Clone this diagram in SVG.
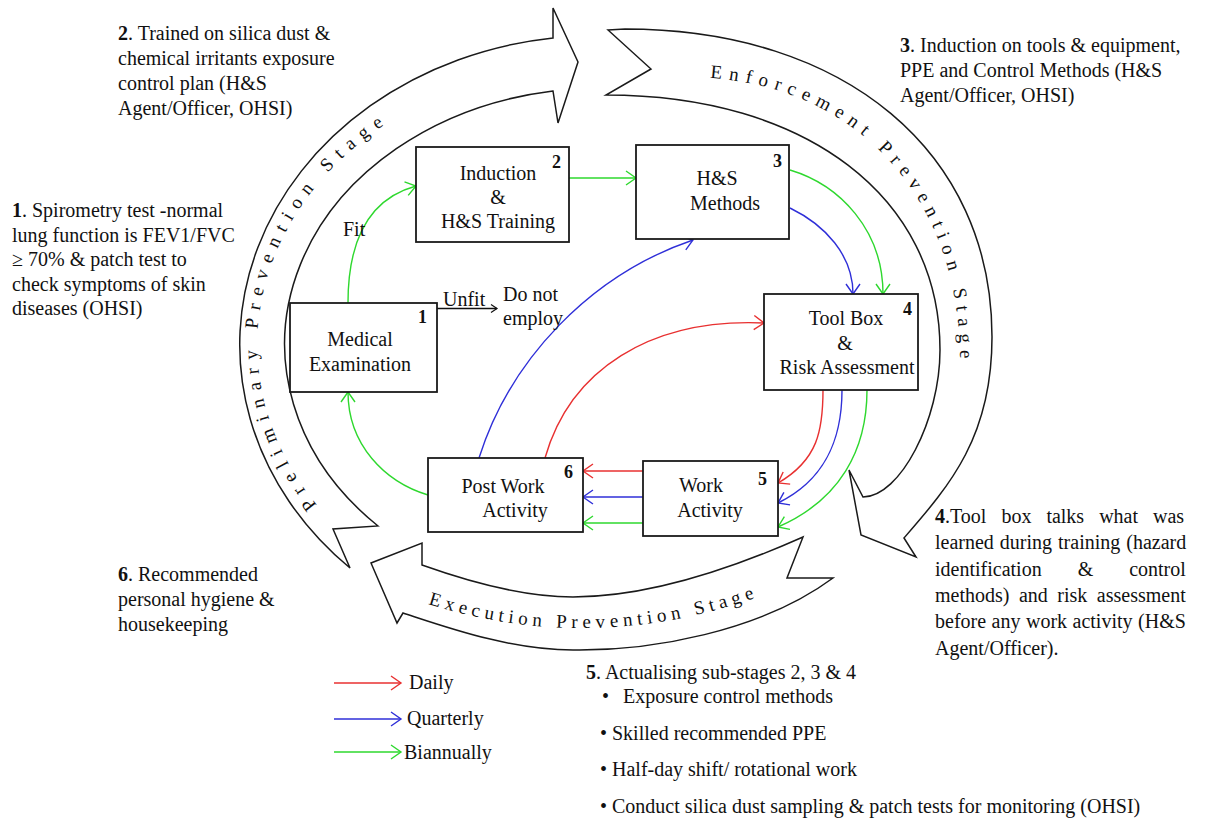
<svg xmlns="http://www.w3.org/2000/svg" width="1205" height="821" viewBox="0 0 1205 821">
<defs>
<style>
text{font-family:"Liberation Serif","Times New Roman",serif;fill:#111;font-size:20px}
.c{text-anchor:middle}
.n{font-size:18px;font-weight:bold}
.bd{font-weight:bold}
.box{fill:#fff;stroke:#1a1a1a;stroke-width:1.8}
.band{fill:#fff;stroke:#1a1a1a;stroke-width:1.5;stroke-linejoin:miter}
.bt{font-size:19px}
.r{fill:none;stroke:#e83030;stroke-width:1.4}
.b{fill:none;stroke:#2f2fd8;stroke-width:1.4}
.g{fill:none;stroke:#2ed82e;stroke-width:1.4}
.k{fill:none;stroke:#111;stroke-width:1.3}
</style>
<marker id="mr" markerUnits="userSpaceOnUse" markerWidth="14" markerHeight="18" refX="11" refY="8" orient="auto"><path d="M1,1 L11,8 L1,15" fill="none" stroke="#e83030" stroke-width="1.4"/></marker>
<marker id="mb" markerUnits="userSpaceOnUse" markerWidth="14" markerHeight="18" refX="11" refY="8" orient="auto"><path d="M1,1 L11,8 L1,15" fill="none" stroke="#2f2fd8" stroke-width="1.4"/></marker>
<marker id="mg" markerUnits="userSpaceOnUse" markerWidth="14" markerHeight="18" refX="11" refY="8" orient="auto"><path d="M1,1 L11,8 L1,15" fill="none" stroke="#2ed82e" stroke-width="1.4"/></marker>
<marker id="mk" markerUnits="userSpaceOnUse" markerWidth="10" markerHeight="10" refX="7" refY="5" orient="auto"><path d="M1,1 L7,5 L1,9" fill="none" stroke="#111" stroke-width="1.2"/></marker>
<path id="pp" d="M317,505 A333,280 0 0 1 397,117"/>
<path id="ep" d="M710,78 C860,88 960,200 960,360"/>
<path id="xp" d="M428,604 Q590,655 755,598"/>
</defs>
<rect width="1205" height="821" fill="#fff"/>

<g id="stage-preliminary">
<path class="band" d="M350,568 A357,309 0 0 1 553,38 L553,8 L578,62 L558,123 L553,91 A315,256 0 0 0 378,526 L333,529 Z"/>
<text class="bt" letter-spacing="7.95"><textPath href="#pp">Preliminary Prevention Stage</textPath></text>
</g>
<g id="stage-enforcement">
<path class="band" d="M608,30 L625,29 C845,29 992,152 992,337 C992,437 950,485 904,538 L916,557 L861,535 L849,470 L863,497 C900,497 940,420 940,350 C940,197 806,95 606,95 L651,69 Z"/>
<text class="bt" letter-spacing="6.85"><textPath href="#ep">Enforcement Prevention Stage</textPath></text>
</g>
<g id="stage-execution">
<path class="band" d="M803,537 C731,569 650,597 573,597 C520,597 464,580 422,565 L422,543 L371,563 L397,623 L403,613 C446,627 510,650 573,650 C650,651 760,632 833,578 L787,578 Z"/>
<text class="bt" letter-spacing="4.85"><textPath href="#xp">Execution Prevention Stage</textPath></text>
</g>

<g id="connectors">
<path class="g" d="M348,303 C348,235 372,198 416,186" marker-end="url(#mg)"/>
<path class="g" d="M569,178 L636,178" marker-end="url(#mg)"/>
<path class="g" d="M790,170 C840,185 883,230 883,294" marker-end="url(#mg)"/>
<path class="b" d="M790,208 C825,225 853,255 853,294" marker-end="url(#mb)"/>
<path class="r" d="M823,390 C823,430 818,460 778,483" marker-end="url(#mr)"/>
<path class="b" d="M842,390 C842,440 825,480 778,503" marker-end="url(#mb)"/>
<path class="g" d="M867,390 C867,450 840,500 778,527" marker-end="url(#mg)"/>
<path class="r" d="M643,471 L583,471" marker-end="url(#mr)"/>
<path class="b" d="M643,497 L583,497" marker-end="url(#mb)"/>
<path class="g" d="M643,523 L583,523" marker-end="url(#mg)"/>
<path class="g" d="M428,495 C385,482 348,445 348,392" marker-end="url(#mg)"/>
<path class="b" d="M479,458 C510,360 590,275 693,240" marker-end="url(#mb)"/>
<path class="r" d="M545,458 C570,370 650,318 764,323" marker-end="url(#mr)"/>
<path class="k" d="M437,308.5 L497,308.5" marker-end="url(#mk)"/>
<text x="343" y="236">Fit</text>
<text x="443" y="306">Unfit</text>
</g>

<g id="node-1">
<rect class="box" x="290" y="303" width="147" height="89"/>
<text class="n" x="418" y="323">1</text>
<text class="c" x="360" y="346">Medical</text>
<text class="c" x="360" y="371">Examination</text>
</g>
<g id="node-2">
<rect class="box" x="416" y="147" width="153" height="95"/>
<text class="n" x="552" y="168">2</text>
<text class="c" x="498" y="180">Induction</text>
<text class="c" x="498" y="204">&amp;</text>
<text class="c" x="498" y="228">H&amp;S Training</text>
</g>
<g id="node-3">
<rect class="box" x="636" y="145" width="153" height="94"/>
<text class="n" x="773" y="167">3</text>
<text class="c" x="717" y="185">H&amp;S</text>
<text class="c" x="725" y="210">Methods</text>
</g>
<g id="node-4">
<rect class="box" x="764" y="294" width="154" height="96"/>
<text class="n" x="903" y="315">4</text>
<text class="c" x="846" y="325">Tool Box</text>
<text class="c" x="845" y="350">&amp;</text>
<text class="c" x="847" y="374">Risk Assessment</text>
</g>
<g id="node-5">
<rect class="box" x="643" y="461" width="135" height="75"/>
<text class="n" x="758" y="485">5</text>
<text class="c" x="701" y="492">Work</text>
<text class="c" x="710" y="517">Activity</text>
</g>
<g id="node-6">
<rect class="box" x="428" y="458" width="155" height="74"/>
<text class="n" x="564" y="478">6</text>
<text class="c" x="503" y="493">Post Work</text>
<text class="c" x="515" y="517">Activity</text>
</g>
<g id="node-do-not-employ">
<text x="503" y="301">Do not</text>
<text x="503" y="325">employ</text>
</g>

<g id="notes">
<text x="118" y="40"><tspan class="bd">2</tspan>. Trained on silica dust &amp;</text>
<text x="118" y="65">chemical irritants exposure</text>
<text x="118" y="90">control plan (H&amp;S</text>
<text x="118" y="115">Agent/Officer, OHSI)</text>

<text x="900" y="52"><tspan class="bd">3</tspan>. Induction on tools &amp; equipment,</text>
<text x="900" y="77">PPE and Control Methods (H&amp;S</text>
<text x="900" y="102">Agent/Officer, OHSI)</text>

<text x="12" y="217"><tspan class="bd">1</tspan>. Spirometry test -normal</text>
<text x="12" y="242">lung function is FEV1/FVC</text>
<text x="12" y="266">≥ 70% &amp; patch test to</text>
<text x="12" y="291">check symptoms of skin</text>
<text x="12" y="315">diseases (OHSI)</text>

<text x="118" y="581"><tspan class="bd">6</tspan>. Recommended</text>
<text x="118" y="606">personal hygiene &amp;</text>
<text x="118" y="631">housekeeping</text>

<text x="935" y="523" word-spacing="10"><tspan class="bd">4</tspan>.Tool box talks what was</text>
<text x="935" y="549" word-spacing="1">learned during training (hazard</text>
<text x="935" y="576" word-spacing="31">identification &amp; control</text>
<text x="935" y="602" word-spacing="4.5">methods) and risk assessment</text>
<text x="935" y="628" word-spacing="0.5">before any work activity (H&amp;S</text>
<text x="935" y="655">Agent/Officer).</text>

<text x="586" y="679"><tspan class="bd">5</tspan>. Actualising sub-stages 2, 3 &amp; 4</text>
<text x="602" y="703" font-size="15">•</text>
<text x="623" y="703">Exposure control methods</text>
<text x="600" y="740" font-size="15">•</text>
<text x="612" y="740">Skilled recommended PPE</text>
<text x="600" y="776" font-size="15">•</text>
<text x="612" y="776">Half-day shift/ rotational work</text>
<text x="600" y="813" font-size="15">•</text>
<text x="612" y="813">Conduct silica dust sampling &amp; patch tests for monitoring (OHSI)</text>
</g>

<g id="legend">
<path class="r" d="M334,683 L401,683" marker-end="url(#mr)"/>
<text x="409" y="689">Daily</text>
<path class="b" d="M334,719 L401,719" marker-end="url(#mb)"/>
<text x="407" y="725">Quarterly</text>
<path class="g" d="M334,752 L401,752" marker-end="url(#mg)"/>
<text x="404" y="759">Biannually</text>
</g>
</svg>
